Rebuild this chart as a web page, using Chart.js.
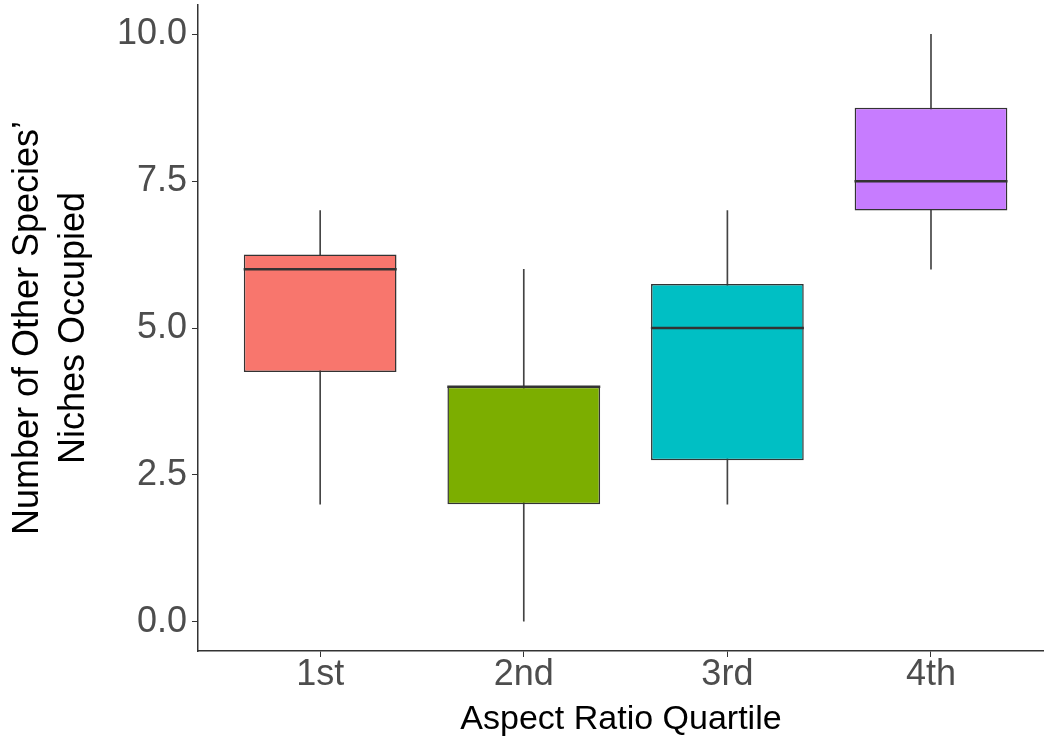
<!DOCTYPE html>
<html>
<head>
<meta charset="utf-8">
<script src="https://cdn.jsdelivr.net/npm/chart.js@4/dist/chart.umd.min.js"></script>
<style>
  html, body { margin: 0; padding: 0; background: #ffffff; overflow: hidden; }
  #chart { display: block; }
</style>
</head>
<body>
<canvas id="chart" width="1044" height="742"></canvas>
<script>
// Box-plot summary per aspect-ratio quartile
const quartiles   = ['1st', '2nd', '3rd', '4th'];
const whiskerLow  = [2, 0, 2, 6];
const boxLow      = [4.25, 2, 2.75, 7];
const medians     = [6, 4, 5, 7.5];
const boxHigh     = [6.25, 4, 5.75, 8.75];
const whiskerHigh = [7, 6, 7, 10];
const yTickValues = [0, 2.5, 5, 7.5, 10];

const fillColors = ['#F8766D', '#7CAE00', '#00BFC4', '#C77CFF'];
const ink = '#333333';
const tickInk = '#4D4D4D';
const fontFamily = '"Liberation Sans", Arial, Helvetica, sans-serif';

const pos = i => i + 1;

const whiskerData = quartiles.map((q, i) => ({ x: pos(i), y: [whiskerLow[i], whiskerHigh[i]] }));
const boxData     = quartiles.map((q, i) => ({ x: pos(i), y: [boxLow[i], boxHigh[i]] }));
const medianData  = quartiles.map((q, i) => ({ x: pos(i), y: medians[i] }));

new Chart(document.getElementById('chart'), {
  type: 'bar',
  data: {
    datasets: [
      {
        type: 'line',
        label: 'median',
        data: medianData,
        showLine: false,
        pointStyle: 'line',
        pointRadius: 76.5,
        pointHoverRadius: 76.5,
        pointBorderWidth: 2.5,
        pointBorderColor: ink,
        borderColor: ink,
        order: 1
      },
      {
        label: 'box',
        data: boxData,
        backgroundColor: fillColors,
        borderColor: ink,
        borderWidth: 1.5,
        borderSkipped: false,
        grouped: false,
        categoryPercentage: 1,
        barPercentage: 0.75,
        order: 2
      },
      {
        label: 'whisker',
        data: whiskerData,
        backgroundColor: '#444444',
        borderWidth: 0,
        grouped: false,
        barThickness: 1,
        order: 3
      }
    ]
  },
  options: {
    responsive: false,
    devicePixelRatio: 1,
    animation: false,
    events: [],
    layout: { autoPadding: false, padding: { top: 5, left: 0, right: 0, bottom: 0 } },
    plugins: {
      legend: { display: false },
      tooltip: { enabled: false }
    },
    scales: {
      x: {
        type: 'linear',
        offset: false,
        min: 0.4,
        max: 4.555,
        afterBuildTicks: s => { s.ticks = quartiles.map((q, i) => ({ value: pos(i) })); },
        afterFit: s => { s.height = 91; s.paddingLeft = 0; s.paddingRight = 0; },
        ticks: {
          callback: v => quartiles[v - 1],
          color: tickInk,
          font: { family: fontFamily, size: 36, lineHeight: 1 },
          padding: 0,
          autoSkip: false,
          maxRotation: 0
        },
        grid: { offset: false, drawOnChartArea: false, drawTicks: true, tickLength: 6, color: ink, lineWidth: 1 },
        border: { display: true, color: ink, width: 1.5 },
        title: {
          display: true,
          text: 'Aspect Ratio Quartile',
          color: '#000000',
          font: { family: fontFamily, size: 34, lineHeight: 1.2 },
          padding: { top: 0, bottom: 2 }
        }
      },
      y: {
        type: 'linear',
        min: -0.5,
        max: 10.5,
        afterBuildTicks: s => { s.ticks = yTickValues.map(v => ({ value: v })); },
        afterFit: s => { s.width = 198; s.paddingTop = 0; s.paddingBottom = 0; },
        ticks: {
          callback: v => v.toFixed(1),
          color: tickInk,
          font: { family: fontFamily, size: 36, lineHeight: 1 },
          padding: 5
        },
        grid: { drawOnChartArea: false, drawTicks: true, tickLength: 6, color: ink, lineWidth: 1 },
        border: { display: true, color: ink, width: 1.5 },
        title: {
          display: true,
          text: ['Number of Other Species\u2019', 'Niches Occupied'],
          color: '#000000',
          font: { family: fontFamily, size: 36, lineHeight: 1.28 },
          padding: { top: 5, bottom: 0 }
        }
      }
    }
  }
});
</script>
</body>
</html>
